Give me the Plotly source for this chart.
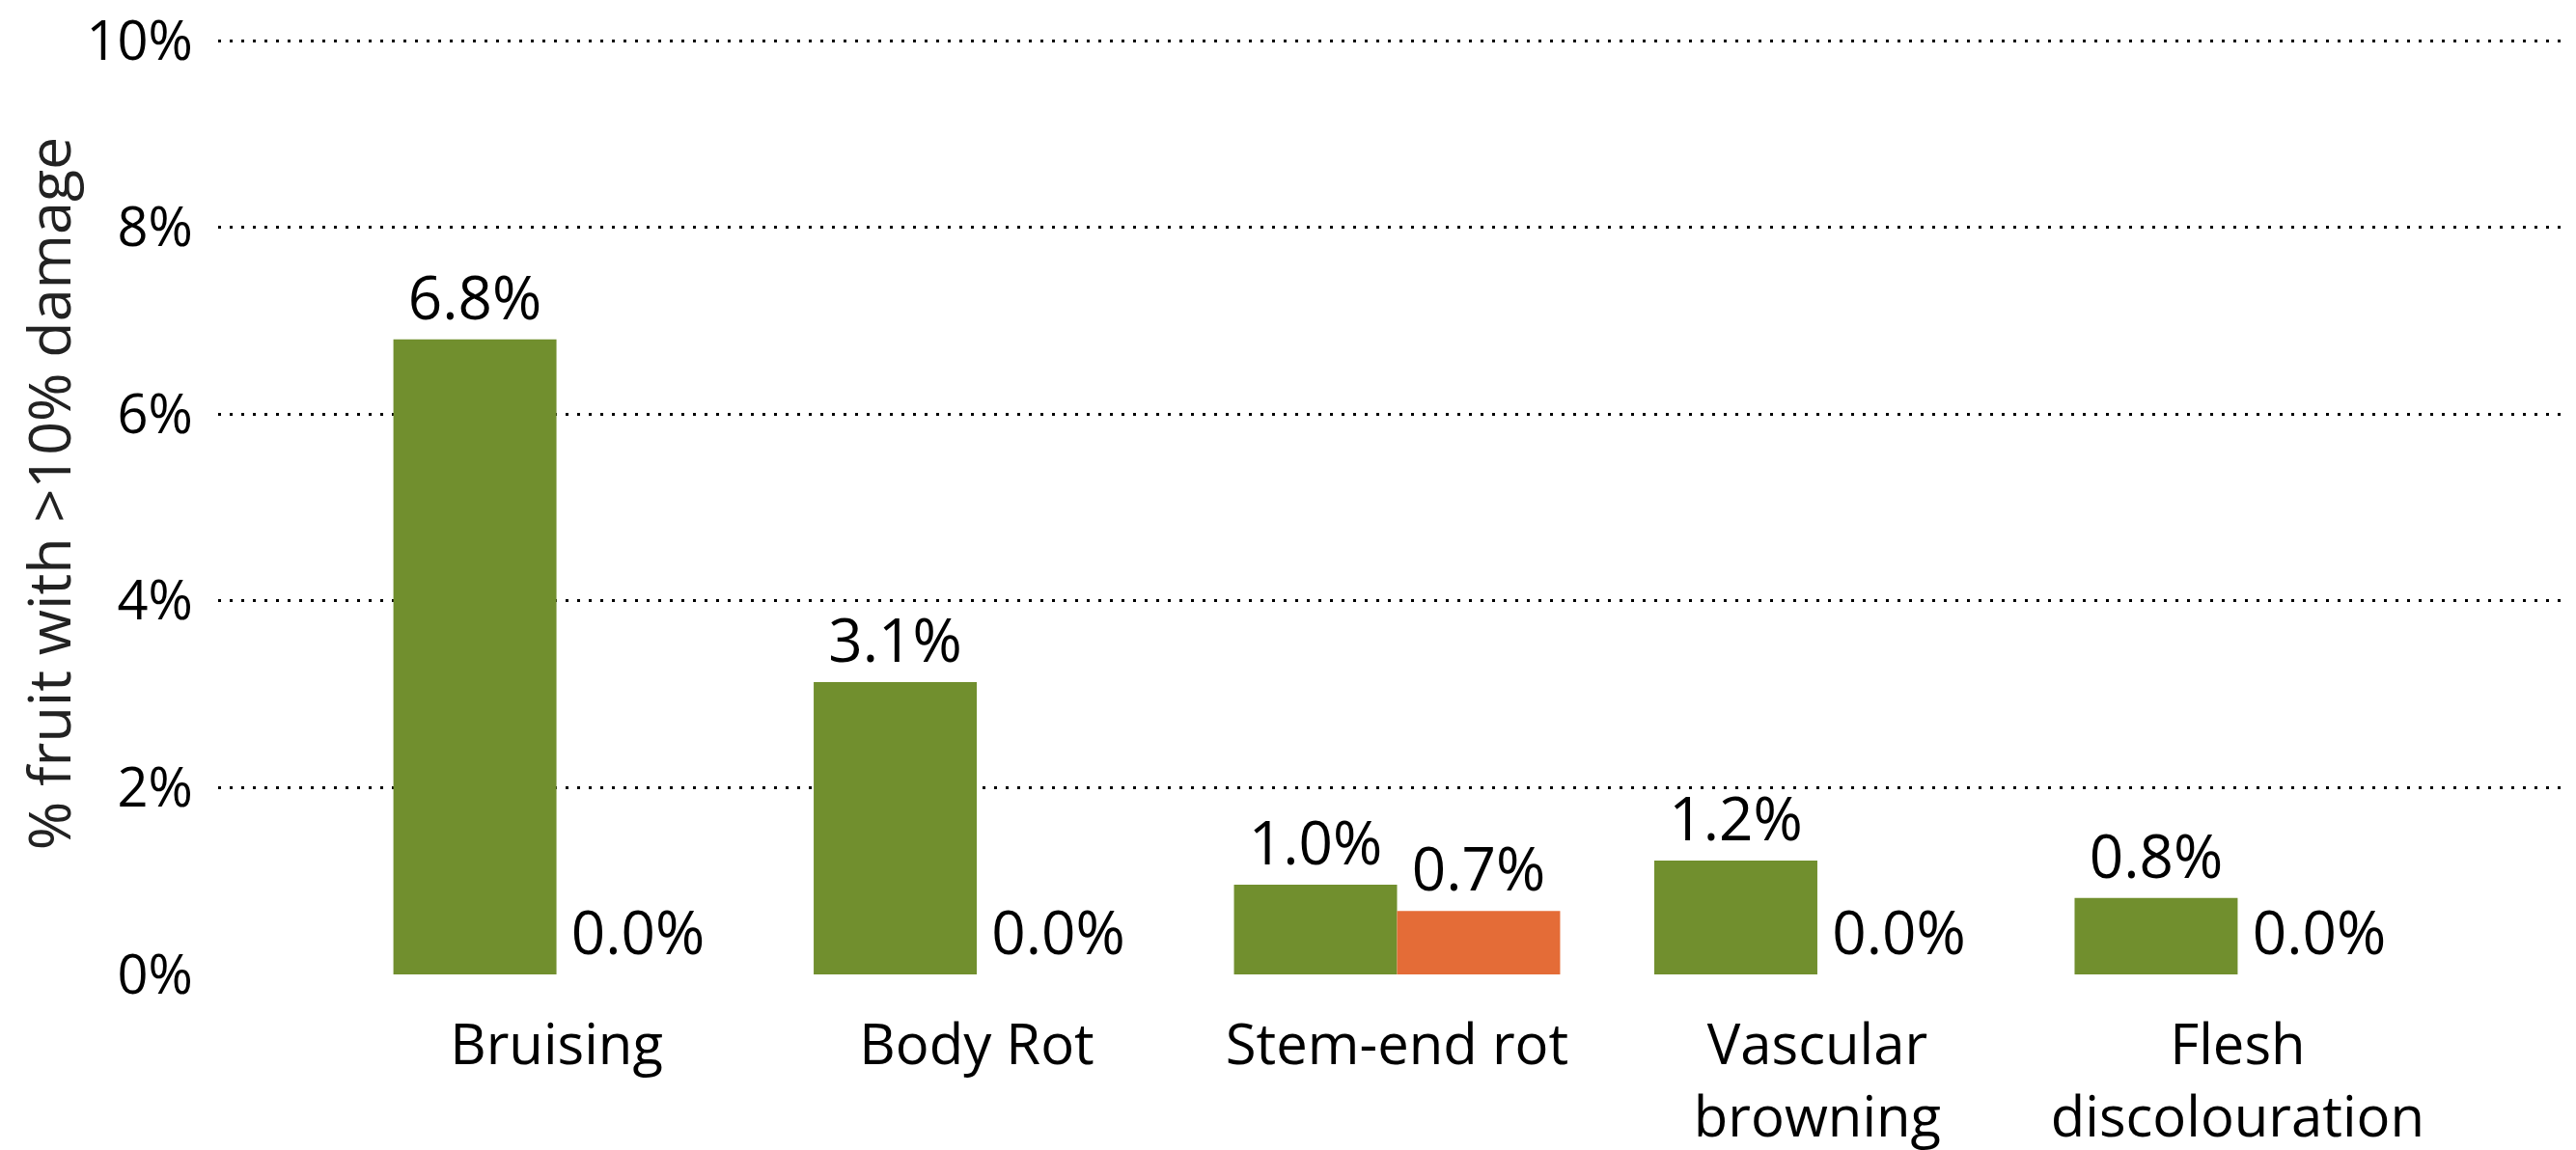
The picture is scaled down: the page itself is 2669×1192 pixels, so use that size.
import plotly.graph_objects as go

categories = ["Bruising", "Body Rot", "Stem-end rot", "Vascular<br>browning", "Flesh<br>discolouration"]
series_a = [6.8, 3.13, 0.96, 1.22, 0.82]
series_b = [0.0, 0.0, 0.68, 0.0, 0.0]
y_ticks = [0, 2, 4, 6, 8, 10]
y_tick_labels = ["0%", "2%", "4%", "6%", "8%", "10%"]

FONT = "Open Sans"
FS = 58

x = list(range(len(categories)))

fig = go.Figure()
fig.add_trace(go.Bar(
    x=x, y=series_a, marker_color="#718F2E", marker_line_width=0,
    texttemplate="%{y:.1f}%", textposition="outside", cliponaxis=False,
    textfont=dict(family=FONT, size=62, color="black"), name="A",
))
fig.add_trace(go.Bar(
    x=x, y=series_b, marker_color="#E46C37", marker_line_width=0,
    texttemplate="%{y:.1f}%", textposition="outside", cliponaxis=False,
    textfont=dict(family=FONT, size=62, color="black"), name="B",
))

fig.update_layout(
    width=2669, height=1192,
    margin=dict(l=218, r=8, t=5, b=187),
    paper_bgcolor="white", plot_bgcolor="white",
    barmode="group", bargap=0.224, bargroupgap=0,
    showlegend=False,
    font=dict(family=FONT, size=FS, color="black"),
    xaxis=dict(
        tickmode="array", tickvals=x, ticktext=categories,
        range=[-0.805, len(categories) - 1 + 0.805],
        showgrid=False, zeroline=False, showline=False,
        ticks="outside", ticklen=22, tickcolor="rgba(0,0,0,0)",
        tickfont=dict(family=FONT, size=FS, color="black"),
        ticklabeloverflow="allow",
    ),
    yaxis=dict(
        range=[0, 10.3], tickvals=y_ticks, ticktext=y_tick_labels,
        showgrid=True, gridcolor="black", gridwidth=3, griddash="3px,9px",
        zeroline=False, showline=False,
        ticks="outside", ticklen=14, tickcolor="rgba(0,0,0,0)",
        tickfont=dict(family=FONT, size=56, color="black"),
        ticklabeloverflow="allow",
        title=dict(text="% fruit with >10% damage", font=dict(family=FONT, size=61, color="#222222"), standoff=40),
        automargin=False,
    ),
)

fig.write_html("out.html")
